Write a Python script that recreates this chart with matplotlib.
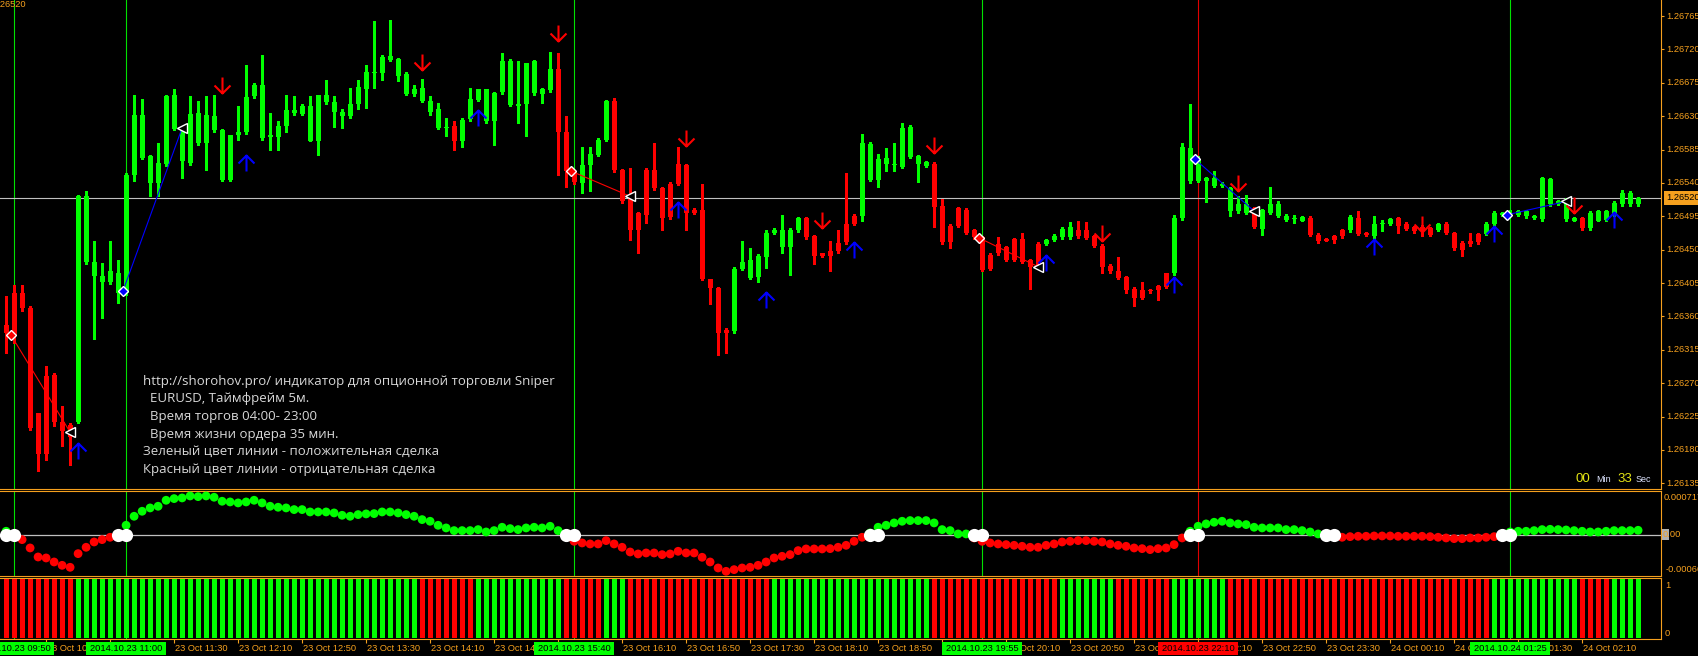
import numpy as np
import matplotlib
matplotlib.use("Agg")
import matplotlib.pyplot as plt
from matplotlib.path import Path
from matplotlib.patches import Rectangle
from matplotlib.transforms import blended_transform_factory as blend

W, H, DPI = 1699, 656, 100

# ---------------- data (EURUSD M5, bar 0 = 23 Oct 09:45) ----------------
opens = [
1.26349, 1.26391, 1.26391, 1.26371, 1.26230, 1.26280, 1.26281, 1.26218, 1.26214, 1.26217,
1.26433, 1.26414, 1.26406, 1.26406, 1.26392, 1.26392, 1.26551, 1.26574, 1.26540, 1.26540,
1.26566, 1.26613, 1.26569, 1.26567, 1.26594, 1.26594, 1.26611, 1.26544, 1.26544, 1.26604,
1.26608, 1.26657, 1.26600, 1.26602, 1.26602, 1.26617, 1.26634, 1.26633, 1.26597, 1.26596,
1.26649, 1.26636, 1.26630, 1.26630, 1.26647, 1.26667, 1.26688, 1.26688, 1.26706, 1.26684,
1.26660, 1.26660, 1.26651, 1.26636, 1.26614, 1.26614, 1.26617, 1.26596, 1.26626, 1.26652,
1.26623, 1.26623, 1.26662, 1.26645, 1.26644, 1.26647, 1.26661, 1.26660, 1.26665, 1.26693,
1.26608, 1.26556, 1.26540, 1.26564, 1.26578, 1.26598, 1.26650, 1.26557, 1.26520, 1.26499,
1.26557, 1.26558, 1.26533, 1.26539, 1.26566, 1.26564, 1.26504, 1.26504, 1.26410, 1.26398,
1.26342, 1.26340, 1.26424, 1.26412, 1.26413, 1.26440, 1.26472, 1.26453, 1.26453, 1.26476,
1.26493, 1.26468, 1.26445, 1.26448, 1.26459, 1.26485, 1.26496, 1.26496, 1.26544, 1.26544,
1.26566, 1.26564, 1.26562, 1.26575, 1.26566, 1.26563, 1.26566, 1.26509, 1.26482, 1.26506,
1.26504, 1.26476, 1.26467, 1.26443, 1.26457, 1.26453, 1.26464, 1.26464, 1.26436, 1.26458,
1.26458, 1.26463, 1.26467, 1.26467, 1.26477, 1.26477, 1.26468, 1.26455, 1.26428, 1.26421,
1.26413, 1.26397, 1.26396, 1.26395, 1.26401, 1.26418, 1.26418, 1.26493, 1.26542, 1.26542,
1.26542, 1.26536, 1.26536, 1.26502, 1.26502, 1.26500, 1.26506, 1.26478, 1.26500, 1.26496,
1.26490, 1.26491, 1.26489, 1.26493, 1.26470, 1.26464, 1.26468, 1.26476, 1.26476, 1.26493,
1.26472, 1.26468, 1.26484, 1.26485, 1.26493, 1.26485, 1.26480, 1.26481, 1.26479, 1.26477,
1.26485, 1.26472, 1.26459, 1.26461, 1.26471, 1.26471, 1.26484, 1.26497, 1.26498, 1.26497,
1.26495, 1.26493, 1.26491, 1.26511, 1.26512, 1.26491, 1.26489, 1.26493, 1.26479, 1.26489,
1.26490, 1.26497, 1.26511, 1.26511, 1.26511]

highs = [
1.26387, 1.26403, 1.26403, 1.26374, 1.26230, 1.26293, 1.26284, 1.26239, 1.26216, 1.26524,
1.26529, 1.26461, 1.26432, 1.26461, 1.26436, 1.26553, 1.26659, 1.26653, 1.26578, 1.26594,
1.26659, 1.26667, 1.26616, 1.26657, 1.26650, 1.26657, 1.26659, 1.26613, 1.26605, 1.26643,
1.26699, 1.26675, 1.26713, 1.26634, 1.26623, 1.26659, 1.26657, 1.26647, 1.26657, 1.26659,
1.26679, 1.26657, 1.26639, 1.26668, 1.26679, 1.26699, 1.26758, 1.26712, 1.26759, 1.26708,
1.26689, 1.26672, 1.26680, 1.26657, 1.26648, 1.26627, 1.26623, 1.26627, 1.26668, 1.26667,
1.26667, 1.26663, 1.26715, 1.26707, 1.26704, 1.26702, 1.26706, 1.26668, 1.26717, 1.26715,
1.26630, 1.26557, 1.26589, 1.26589, 1.26600, 1.26652, 1.26654, 1.26559, 1.26560, 1.26501,
1.26560, 1.26594, 1.26535, 1.26541, 1.26589, 1.26566, 1.26506, 1.26539, 1.26411, 1.26400,
1.26344, 1.26426, 1.26461, 1.26452, 1.26444, 1.26477, 1.26479, 1.26497, 1.26479, 1.26494,
1.26494, 1.26470, 1.26446, 1.26461, 1.26477, 1.26553, 1.26498, 1.26606, 1.26595, 1.26579,
1.26587, 1.26594, 1.26621, 1.26618, 1.26578, 1.26570, 1.26568, 1.26518, 1.26484, 1.26508,
1.26506, 1.26478, 1.26469, 1.26445, 1.26467, 1.26455, 1.26466, 1.26472, 1.26438, 1.26460,
1.26465, 1.26471, 1.26480, 1.26487, 1.26488, 1.26487, 1.26470, 1.26457, 1.26430, 1.26440,
1.26415, 1.26399, 1.26407, 1.26397, 1.26403, 1.26419, 1.26497, 1.26594, 1.26647, 1.26576,
1.26548, 1.26556, 1.26541, 1.26535, 1.26522, 1.26524, 1.26508, 1.26505, 1.26534, 1.26515,
1.26498, 1.26497, 1.26496, 1.26496, 1.26472, 1.26466, 1.26470, 1.26478, 1.26497, 1.26502,
1.26474, 1.26496, 1.26490, 1.26493, 1.26494, 1.26487, 1.26482, 1.26483, 1.26481, 1.26486,
1.26487, 1.26474, 1.26461, 1.26473, 1.26473, 1.26487, 1.26502, 1.26501, 1.26503, 1.26503,
1.26503, 1.26497, 1.26548, 1.26547, 1.26517, 1.26520, 1.26494, 1.26494, 1.26502, 1.26503,
1.26503, 1.26515, 1.26531, 1.26529, 1.26521]

lows = [
1.26311, 1.26324, 1.26367, 1.26207, 1.26151, 1.26167, 1.26212, 1.26185, 1.26160, 1.26216,
1.26430, 1.26329, 1.26358, 1.26404, 1.26378, 1.26389, 1.26542, 1.26572, 1.26522, 1.26522,
1.26563, 1.26611, 1.26546, 1.26564, 1.26591, 1.26558, 1.26609, 1.26542, 1.26542, 1.26598,
1.26606, 1.26654, 1.26598, 1.26585, 1.26585, 1.26609, 1.26632, 1.26631, 1.26596, 1.26578,
1.26647, 1.26616, 1.26614, 1.26628, 1.26639, 1.26641, 1.26668, 1.26679, 1.26704, 1.26677,
1.26658, 1.26657, 1.26649, 1.26632, 1.26612, 1.26603, 1.26585, 1.26589, 1.26624, 1.26650,
1.26621, 1.26591, 1.26660, 1.26644, 1.26621, 1.26603, 1.26659, 1.26648, 1.26663, 1.26551,
1.26535, 1.26539, 1.26526, 1.26529, 1.26576, 1.26596, 1.26555, 1.26513, 1.26463, 1.26446,
1.26486, 1.26531, 1.26477, 1.26492, 1.26537, 1.26477, 1.26498, 1.26409, 1.26377, 1.26308,
1.26311, 1.26338, 1.26422, 1.26410, 1.26406, 1.26425, 1.26471, 1.26446, 1.26416, 1.26474,
1.26465, 1.26430, 1.26440, 1.26421, 1.26446, 1.26458, 1.26483, 1.26488, 1.26542, 1.26535,
1.26556, 1.26556, 1.26560, 1.26573, 1.26541, 1.26561, 1.26480, 1.26458, 1.26452, 1.26480,
1.26471, 1.26465, 1.26421, 1.26422, 1.26443, 1.26435, 1.26435, 1.26432, 1.26397, 1.26426,
1.26456, 1.26462, 1.26465, 1.26465, 1.26466, 1.26464, 1.26453, 1.26418, 1.26419, 1.26410,
1.26391, 1.26374, 1.26383, 1.26392, 1.26382, 1.26398, 1.26416, 1.26490, 1.26540, 1.26541,
1.26514, 1.26534, 1.26534, 1.26495, 1.26500, 1.26498, 1.26479, 1.26470, 1.26498, 1.26494,
1.26488, 1.26486, 1.26488, 1.26468, 1.26459, 1.26461, 1.26459, 1.26466, 1.26474, 1.26470,
1.26468, 1.26466, 1.26475, 1.26483, 1.26472, 1.26476, 1.26473, 1.26468, 1.26468, 1.26475,
1.26471, 1.26450, 1.26442, 1.26455, 1.26458, 1.26470, 1.26482, 1.26495, 1.26497, 1.26495,
1.26493, 1.26491, 1.26489, 1.26509, 1.26510, 1.26489, 1.26488, 1.26477, 1.26477, 1.26488,
1.26489, 1.26495, 1.26509, 1.26509, 1.26509]

closes = [
1.26338, 1.26335, 1.26371, 1.26210, 1.26174, 1.26174, 1.26217, 1.26205, 1.26198, 1.26522,
1.26522, 1.26434, 1.26414, 1.26421, 1.26419, 1.26551, 1.26632, 1.26632, 1.26576, 1.26567,
1.26657, 1.26658, 1.26614, 1.26633, 1.26634, 1.26631, 1.26630, 1.26611, 1.26604, 1.26608,
1.26656, 1.26672, 1.26672, 1.26604, 1.26617, 1.26638, 1.26638, 1.26644, 1.26643, 1.26658,
1.26659, 1.26649, 1.26636, 1.26647, 1.26669, 1.26689, 1.26690, 1.26710, 1.26711, 1.26707,
1.26687, 1.26667, 1.26668, 1.26651, 1.26639, 1.26616, 1.26597, 1.26625, 1.26653, 1.26666,
1.26666, 1.26661, 1.26705, 1.26705, 1.26647, 1.26701, 1.26704, 1.26667, 1.26693, 1.26608,
1.26556, 1.26541, 1.26564, 1.26579, 1.26598, 1.26650, 1.26557, 1.26515, 1.26477, 1.26477,
1.26497, 1.26533, 1.26493, 1.26494, 1.26539, 1.26500, 1.26499, 1.26410, 1.26398, 1.26338,
1.26337, 1.26424, 1.26434, 1.26436, 1.26442, 1.26472, 1.26477, 1.26476, 1.26477, 1.26493,
1.26467, 1.26442, 1.26442, 1.26441, 1.26448, 1.26460, 1.26485, 1.26594, 1.26593, 1.26572,
1.26573, 1.26566, 1.26614, 1.26615, 1.26576, 1.26568, 1.26507, 1.26460, 1.26460, 1.26482,
1.26473, 1.26467, 1.26423, 1.26424, 1.26445, 1.26436, 1.26436, 1.26434, 1.26427, 1.26427,
1.26463, 1.26469, 1.26478, 1.26480, 1.26468, 1.26466, 1.26455, 1.26427, 1.26421, 1.26412,
1.26395, 1.26385, 1.26385, 1.26394, 1.26395, 1.26400, 1.26493, 1.26589, 1.26587, 1.26571,
1.26547, 1.26547, 1.26539, 1.26533, 1.26511, 1.26511, 1.26480, 1.26503, 1.26512, 1.26511,
1.26496, 1.26493, 1.26494, 1.26470, 1.26461, 1.26462, 1.26463, 1.26468, 1.26494, 1.26471,
1.26470, 1.26485, 1.26485, 1.26491, 1.26482, 1.26478, 1.26475, 1.26475, 1.26470, 1.26484,
1.26473, 1.26452, 1.26450, 1.26457, 1.26460, 1.26484, 1.26499, 1.26499, 1.26499, 1.26502,
1.26502, 1.26495, 1.26547, 1.26545, 1.26515, 1.26515, 1.26493, 1.26479, 1.26500, 1.26502,
1.26502, 1.26513, 1.26527, 1.26527, 1.26520]

bid_price = 1.26520

# oscillator values in millionths (x 1e-6)
osc_micro = [
65, 11, -70, -205, -351, -367, -432, -486, -518, -297,
-194, -108, -70, -32, -16, 162, 308, 389, 443, 470,
567, 594, 605, 637, 626, 637, 616, 551, 540, 524,
540, 567, 524, 470, 454, 443, 416, 416, 378, 378,
378, 362, 324, 308, 335, 346, 351, 378, 378, 362,
335, 308, 254, 227, 162, 119, 76, 76, 76, 92,
54, 76, 130, 108, 92, 119, 130, 119, 146, 76,
-16, -97, -124, -140, -140, -86, -140, -194, -270, -302,
-286, -286, -313, -302, -259, -286, -286, -356, -432, -529,
-583, -556, -529, -518, -486, -432, -367, -340, -313, -248,
-221, -221, -221, -216, -194, -162, -97, -32, 38, 130,
162, 200, 227, 238, 238, 238, 200, 92, 76, 22,
22, -43, -97, -124, -140, -151, -162, -178, -194, -194,
-162, -140, -108, -97, -86, -86, -97, -108, -140, -162,
-178, -205, -216, -232, -216, -205, -151, -43, 65, 146,
184, 211, 227, 200, 184, 173, 130, 119, 119, 119,
92, 92, 76, 54, 22, 3, -22, -32, -22, -16,
-16, -11, -11, -11, -16, -16, -16, -16, -22, -32,
-43, -54, -54, -43, -43, -32, -22, 11, 54, 65,
65, 76, 92, 97, 92, 86, 76, 65, 54, 54,
65, 76, 76, 76, 81]
osc_top, osc_bottom = 0.000717, -0.00066

cross_bars = [0, 1, 14, 15, 70, 71, 108, 109, 121, 122, 148, 149, 165, 166, 187, 188]

# signal histogram: runs of (colour, number of bars)
signal_runs = [("r", 9), ("g", 43), ("r", 7), ("g", 11), ("r", 5), ("g", 3), ("r", 18),
               ("g", 20), ("r", 16), ("g", 7), ("r", 7), ("g", 7), ("r", 33), ("g", 11),
               ("r", 4), ("g", 4)]

up_bars = [9, 30, 59, 84, 95, 106, 130, 146, 171, 186, 201]
up_prices = [1.26178, 1.26567, 1.26627, 1.26504, 1.26382, 1.26450, 1.26432, 1.26403,
             1.26453, 1.26471, 1.26490]
down_bars = [27, 52, 69, 85, 102, 116, 137, 154, 177, 196]
down_prices = [1.26672, 1.26703, 1.26742, 1.26600, 1.26490, 1.26591, 1.26472, 1.26540,
               1.26485, 1.26510]

trade_open_bars = [1, 15, 71, 122, 149, 188]
trade_open_prices = [1.26335, 1.26394, 1.26556, 1.26466, 1.26572, 1.26497]
trade_close_bars = [8, 22, 78, 129, 156, 195]
trade_close_prices = [1.26204, 1.26614, 1.26522, 1.26427, 1.26502, 1.26515]
trade_colors = ["r", "b", "r", "r", "b", "b"]

vline_bars = [1, 15, 71, 122, 149, 188]
vline_labels = ["2014.10.23 09:50", "2014.10.23 11:00", "2014.10.23 15:40",
                "2014.10.23 19:55", "2014.10.23 22:10", "2014.10.24 01:25"]
vline_colors = ["g", "g", "g", "g", "r", "g"]

price_ticks = [1.26135, 1.26180, 1.26225, 1.26270, 1.26315, 1.26360, 1.26405, 1.26450,
               1.26495, 1.26540, 1.26585, 1.26630, 1.26675, 1.26720, 1.26765]
time_tick_bars = list(range(5, 198, 8))
time_tick_labels = ["23 Oct 10:10", "23 Oct 10:50", "23 Oct 11:30", "23 Oct 12:10",
                    "23 Oct 12:50", "23 Oct 13:30", "23 Oct 14:10", "23 Oct 14:50",
                    "23 Oct 15:30", "23 Oct 16:10", "23 Oct 16:50", "23 Oct 17:30",
                    "23 Oct 18:10", "23 Oct 18:50", "23 Oct 19:30", "23 Oct 20:10",
                    "23 Oct 20:50", "23 Oct 21:30", "23 Oct 22:10", "23 Oct 22:50",
                    "23 Oct 23:30", "24 Oct 00:10", "24 Oct 00:50", "24 Oct 01:30",
                    "24 Oct 02:10"]

info_lines = ["http://shorohov.pro/ индикатор для опционной торговли Sniper",
              "  EURUSD, Таймфрейм 5м.",
              "  Время торгов 04:00- 23:00",
              "  Время жизни ордера 35 мин.",
              "Зеленый цвет линии - положительная сделка",
              "Красный цвет линии - отрицательная сделка"]

# ---------------- style ----------------
ORANGE = "#f5a01e"
GREEN = "#00ff00"
RED = "#ff0000"
BLUE = "#0000ff"
SILVER = "#c0c0c0"
CMAP = {"g": GREEN, "r": RED, "b": BLUE}
AXFONT = "Liberation Sans"

fig = plt.figure(figsize=(W / DPI, H / DPI), dpi=DPI, facecolor="black")
RIGHT = 1661


def rect(top, bottom):
    return [0, 1 - bottom / H, RIGHT / W, (bottom - top) / H]


ax = fig.add_axes(rect(0, 489))
ai = fig.add_axes(rect(491, 576))
ah = fig.add_axes(rect(578, 639))
ov = fig.add_axes([0, 0, 1, 1], zorder=10)
ov.set_xlim(0, W)
ov.set_ylim(H, 0)
ov.axis("off")
ov.patch.set_alpha(0)

n = len(opens)
k = np.arange(n)
XL = (-0.7625, 206.8625)
for a in (ax, ai, ah):
    a.set_facecolor("black")
    a.set_xlim(*XL)
    for s in a.spines.values():
        s.set_color(ORANGE)
        s.set_linewidth(0.8)
    a.spines["left"].set_visible(False)
    a.set_xticks([])
    a.set_yticks([])
ax.spines["top"].set_visible(False)

# ---------------- main price panel ----------------
o = np.array(opens)
hi = np.array(highs)
lo = np.array(lows)
c = np.array(closes)
ax.set_ylim(1.2612734, 1.2678657)
cols = np.where(c >= o, GREEN, RED)
ax.axhline(bid_price, color=SILVER, lw=0.8, zorder=2)
for b, col in zip(vline_bars, vline_colors):
    for a in (ax, ai, ah):
        a.axvline(b, color=("#00e000" if col == "g" else "#e00000"), lw=0.8, zorder=1)
ax.vlines(k, lo, hi, colors=cols, lw=0.8, antialiased=False, zorder=3)
ax.bar(k, np.maximum(np.abs(c - o), 1.4e-5), bottom=np.minimum(o, c), width=0.62,
       color=cols, lw=0, antialiased=False, zorder=4)

# trade lines (open marker sits a few pixels left of its bar, as in the terminal)
for b0, p0, b1, p1, tc in zip(trade_open_bars, trade_open_prices, trade_close_bars,
                              trade_close_prices, trade_colors):
    ax.plot([b0 - 0.4, b1], [p0, p1], color=CMAP[tc], lw=0.8, zorder=5)
    ax.plot([b0 - 0.4], [p0], ls="none", marker="D", ms=5, mfc=CMAP[tc], mec="white",
            mew=1.0, zorder=6)
    ax.plot([b1], [p1], ls="none", marker="<", ms=6.5, mfc="black", mec="white",
            mew=1.0, zorder=6)

up_path = Path([(0, -1), (0, 1), (-1, 0), (0, 1), (1, 0)],
               [Path.MOVETO, Path.LINETO, Path.MOVETO, Path.LINETO, Path.LINETO])
down_path = Path([(0, 1), (0, -1), (-1, 0), (0, -1), (1, 0)],
                 [Path.MOVETO, Path.LINETO, Path.MOVETO, Path.LINETO, Path.LINETO])
ax.plot(up_bars, up_prices, ls="none", marker=up_path, ms=11.5, mew=1.5, mec=BLUE,
        mfc="none", zorder=7)
ax.plot(down_bars, down_prices, ls="none", marker=down_path, ms=11.5, mew=1.5, mec=RED,
        mfc="none", zorder=7)

ax.yaxis.tick_right()
ax.set_yticks(price_ticks)
ax.tick_params(axis="y", right=True, left=False, length=2, width=0.8, color=ORANGE,
               labelright=False, labelleft=False)

# ---------------- oscillator panel ----------------
osc = np.array(osc_micro) * 1e-6
ai.set_ylim(-0.000659, osc_top)
ai.axhline(0, color=SILVER, lw=0.9, zorder=2)
ai.scatter(k, osc, s=40, c=np.where(osc >= 0, GREEN, RED), lw=0, zorder=3)
ai.scatter(cross_bars, np.zeros(len(cross_bars)), s=90, c="white", lw=0, zorder=4)

# ---------------- signal histogram ----------------
hist_colors = []
for col, cnt in signal_runs:
    hist_colors += [CMAP[col]] * cnt
ah.set_ylim(-0.017, 1.017)
ah.bar(k, np.ones(n), width=0.62, color=hist_colors, lw=0, antialiased=False, zorder=2)
ah.set_xticks(time_tick_bars)
ah.tick_params(axis="x", length=3, width=0.8, color=ORANGE, direction="out",
               labelbottom=False)

# ---------------- texts ----------------
tr_price = blend(ov.transData, ax.transData)
for p in price_ticks:
    ov.text(1666, p, f"{p:.5f}", transform=tr_price, color=ORANGE, fontsize=6.7,
            family=AXFONT, ha="left", va="center")
ov.text(1666, bid_price, f"{bid_price:.5f}", transform=tr_price, color="black",
        fontsize=6.7, family=AXFONT, ha="left", va="center", zorder=12,
        bbox=dict(boxstyle="square,pad=0.25", fc=ORANGE, ec="none"))
ov.text(26, 4.5, f"{bid_price:.5f}", color=ORANGE, fontsize=6.7, family=AXFONT,
        ha="right", va="center")

ov.text(1664, 497, f"{osc_top:.6f}", color=ORANGE, fontsize=6.7, family=AXFONT,
        ha="left", va="center")
ov.text(1666, 569, f"{osc_bottom:.5f}", color=ORANGE, fontsize=6.7, family=AXFONT,
        ha="left", va="center")
ov.add_patch(Rectangle((1662, 529), 7, 11, fc="#b0b0b0", ec="none", zorder=11))
ov.text(1663, 534.5, "0.00", color=ORANGE, fontsize=6.7, family=AXFONT,
        ha="left", va="center", zorder=12)
ov.text(1665, 586, "1", color=ORANGE, fontsize=6.7, family=AXFONT, ha="left", va="center")
ov.text(1665, 633, "0", color=ORANGE, fontsize=6.7, family=AXFONT, ha="left", va="center")

tr_time = blend(ax.transData, ov.transData)
for b, lab in zip(time_tick_bars, time_tick_labels):
    ov.text(b + 0.15, 648.5, lab, transform=tr_time, color=ORANGE, fontsize=6.7,
            family=AXFONT, ha="left", va="center", zorder=11)
for b, lab, col in zip(vline_bars, vline_labels, vline_colors):
    ov.add_patch(Rectangle((b - 5, 642), 10, 12.5, transform=tr_time, fc=CMAP[col],
                           ec="none", zorder=13))
    ov.text(b, 648.5, lab, transform=tr_time, color="black", fontsize=6.7,
            family=AXFONT, ha="center", va="center", zorder=14)

for i, line in enumerate(info_lines):
    ov.text(143, 381 + i * 17.7, line, color="#d8d8d8", fontsize=9.5, family="Open Sans",
            ha="left", va="center")

ov.text(1576, 478.5, "00", color="#e6e614", fontsize=9.5, family=AXFONT, ha="left",
        va="center")
ov.text(1596, 480, "Min", color="#dde4ff", fontsize=6.5, family=AXFONT, ha="left",
        va="center")
ov.text(1617, 478.5, "33", color="#e6e614", fontsize=9.5, family=AXFONT, ha="left",
        va="center")
ov.text(1636, 480, "Sec", color="#dde4ff", fontsize=6.5, family=AXFONT, ha="left",
        va="center")

fig.savefig("out.png", dpi=DPI, facecolor="black")
